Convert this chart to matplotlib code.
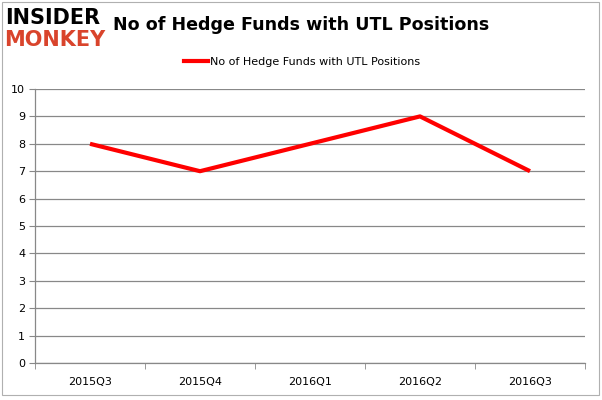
import matplotlib.pyplot as plt
from matplotlib.lines import Line2D
from matplotlib.patches import Rectangle

quarters = ["2015Q3", "2015Q4", "2016Q1", "2016Q2", "2016Q3"]
funds = [8, 7, 8, 9, 7]
y_ticks = list(range(0, 11))

fig = plt.figure(figsize=(6.02, 4.00), dpi=100)
ax = fig.add_axes([35 / 602, 37 / 400, 550 / 602, 274 / 400])

x = list(range(len(quarters)))
ax.plot(x, funds, color="#ff0000", linewidth=3, solid_capstyle="butt",
        label="No of Hedge Funds with UTL Positions")

ax.set_xlim(-0.5, len(quarters) - 0.5)
ax.set_ylim(0, 10)
ax.set_yticks(y_ticks)
ax.set_yticklabels([str(v) for v in y_ticks], fontsize=8)
ax.set_xticks(x)
ax.set_xticklabels(quarters, fontsize=8)
ax.tick_params(axis="x", length=0, pad=10)
ax.tick_params(axis="y", length=4, color="#888888", pad=3)

# category boundary ticks on x axis
ax.set_xticks([i - 0.5 for i in range(len(quarters) + 1)], minor=True)
ax.tick_params(axis="x", which="minor", length=4, color="#888888")

ax.grid(axis="y", color="#888888", linewidth=0.9)
ax.set_axisbelow(True)
for s in ["top", "right"]:
    ax.spines[s].set_visible(False)
for s in ["left", "bottom"]:
    ax.spines[s].set_color("#888888")
    ax.spines[s].set_linewidth(0.9)

# legend
leg_handle = Line2D([0], [0], color="#ff0000", linewidth=3)
fig.legend([leg_handle], ["No of Hedge Funds with UTL Positions"],
           loc="center", bbox_to_anchor=(302 / 602, 1 - 62 / 400),
           frameon=False, fontsize=8, handlelength=2.2, handletextpad=0.2)

# title
fig.text(301 / 602, 1 - 25 / 400, "No of Hedge Funds with UTL Positions",
         ha="center", va="center", fontsize=12.6, fontweight="bold")

# logo
fig.text(5 / 602, 1 - 18 / 400, "INSIDER", ha="left", va="center",
         fontsize=15, fontweight="heavy", color="black", family="DejaVu Sans")
fig.text(4 / 602, 1 - 40 / 400, "MONKEY", ha="left", va="center",
         fontsize=15, fontweight="heavy", color="#d9442c", family="DejaVu Sans")

# outer border
fig.patches.append(Rectangle((2 / 602, 5 / 400), 597 / 602, 393 / 400,
                             transform=fig.transFigure, fill=False,
                             edgecolor="#b0b0b0", linewidth=0.8))

plt.savefig("out.png", dpi=100)
